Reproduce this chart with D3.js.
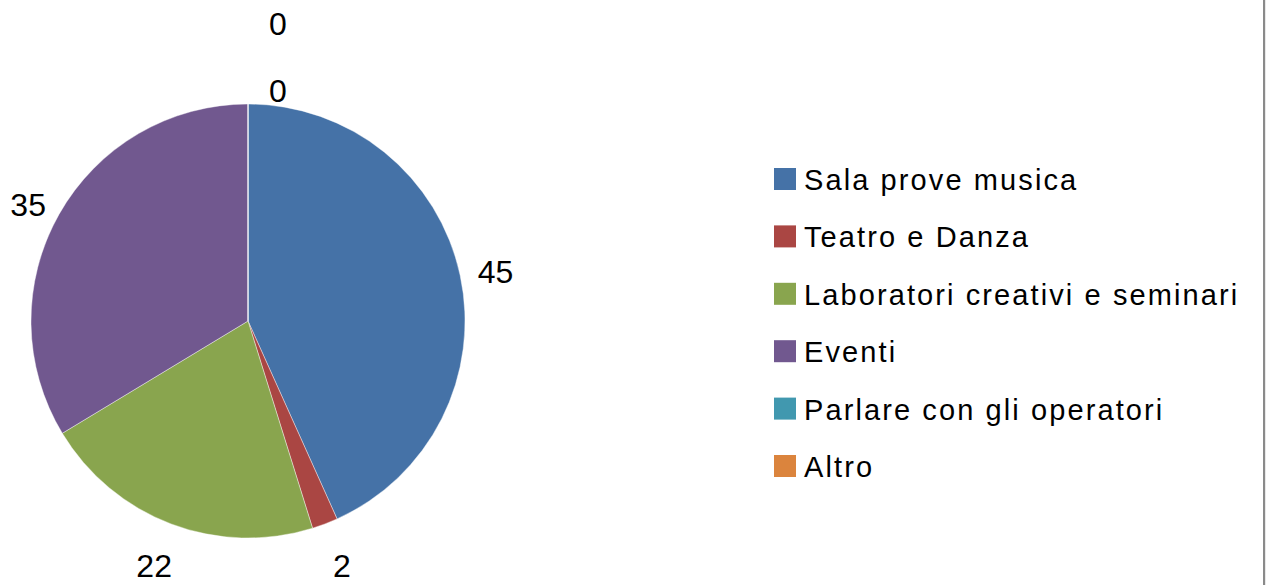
<!DOCTYPE html>
<html>
<head>
<meta charset="utf-8">
<script src="https://cdn.jsdelivr.net/npm/d3@7"></script>
<style>
  html, body { margin: 0; padding: 0; background: #fff; }
  svg { display: block; }
</style>
</head>
<body>
<svg id="chart" width="1266" height="585"></svg>
<script>
const categories = ["Sala prove musica", "Teatro e Danza", "Laboratori creativi e seminari", "Eventi", "Parlare con gli operatori", "Altro"];
const values = [45, 2, 22, 35, 0, 0];
const colors = ["#4572A7", "#AA4643", "#89A54E", "#71588F", "#4198AF", "#DB843D"];

const svg = d3.select("#chart");
const W = 1266, H = 585;
svg.append("rect").attr("width", W).attr("height", H).attr("fill", "#fff");
// right edge frame line
svg.append("rect").attr("x", 1263).attr("y", 0).attr("width", 2.2).attr("height", H).attr("fill", "#8a8a8a");

const cx = 248, cy = 321, R = 217;
const data = categories.map((c, i) => ({ cat: c, value: values[i], color: colors[i] }));
const pie = d3.pie().sort(null).value(d => d.value);
const arcs = pie(data);
const arc = d3.arc().innerRadius(0).outerRadius(R);

const g = svg.append("g").attr("transform", `translate(${cx},${cy})`);
g.selectAll("path.slice").data(arcs).enter().append("path")
  .attr("class", "slice")
  .attr("d", arc)
  .attr("fill", d => d.data.color)
  .attr("stroke", "#ffffff")
  .attr("stroke-opacity", 0.5)
  .attr("stroke-width", 0.8);

// data labels (outside end)
let zeroCount = 0;
arcs.forEach(d => {
  const a = (d.startAngle + d.endAngle) / 2;
  const ux = Math.sin(a), uy = -Math.cos(a);
  let x, y;
  if (d.data.value > 0) {
    const r = R + 29 + 17 * Math.max(0, uy);
    x = ux * r * (1 + 0.03 * Math.abs(ux));
    y = uy * r + 5 * Math.abs(ux) * Math.max(0, -uy) * 2;
  } else {
    const r = R + 14 + zeroCount * 67;
    x = ux * r + 30;
    y = uy * r;
    zeroCount++;
  }
  g.append("text")
    .attr("x", x)
    .attr("y", y)
    .attr("dy", "0.36em")
    .attr("text-anchor", "middle")
    .attr("font-family", "'Liberation Sans', Arial, sans-serif")
    .attr("font-size", 32)
    .attr("fill", "#000")
    .text(d.data.value);
});

// legend
const ly = d3.scalePoint().domain(categories).range([168, 455]);
const leg = svg.append("g");
const items = leg.selectAll("g.item").data(data).enter().append("g").attr("class", "item")
  .attr("transform", d => `translate(774,${ly(d.cat)})`);
items.append("rect").attr("width", 22).attr("height", 22).attr("fill", d => d.color);
items.append("text")
  .attr("x", 30).attr("y", 22)
  .attr("font-family", "'Liberation Sans', Arial, sans-serif")
  .attr("font-size", 29)
  .attr("letter-spacing", "2.1px")
  .attr("fill", "#000")
  .text(d => d.cat);
</script>
</body>
</html>
